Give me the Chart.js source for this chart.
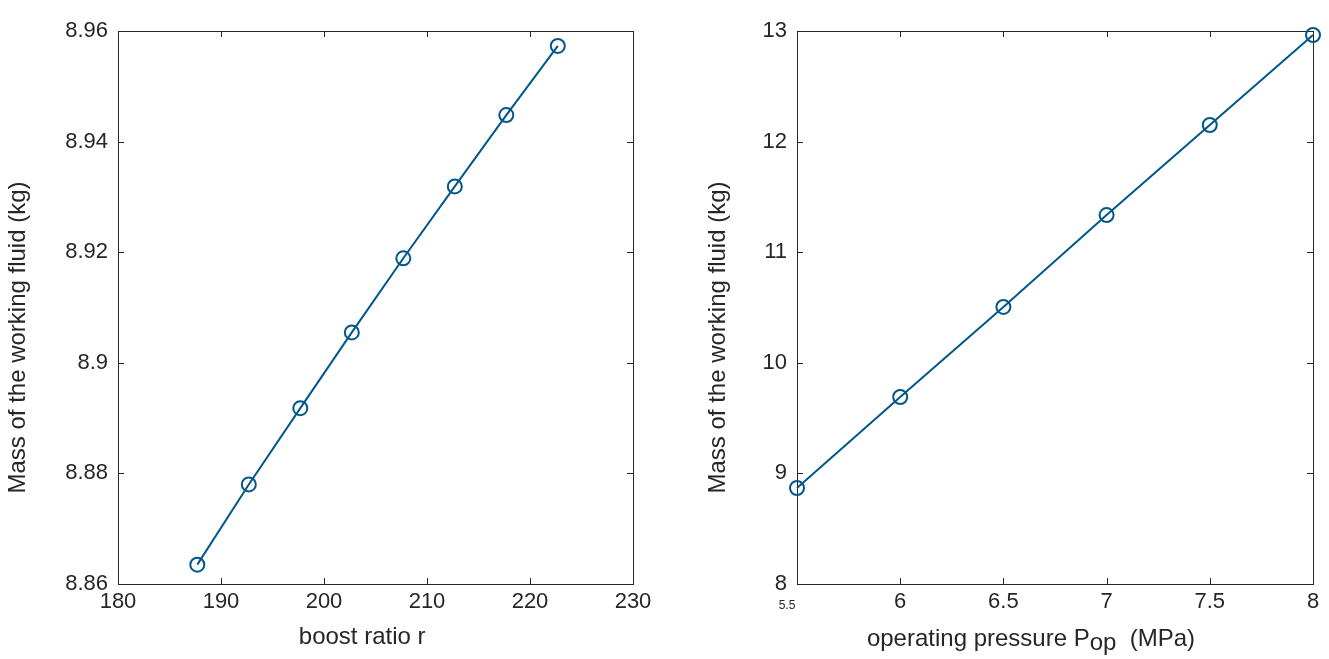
<!DOCTYPE html>
<html>
<head>
<meta charset="utf-8">
<title>Working fluid mass</title>
<script src="https://cdn.jsdelivr.net/npm/chart.js@4.4.1/dist/chart.umd.min.js"></script>
<style>
  html, body { margin: 0; padding: 0; background: #fff; }
  #wrap { position: relative; width: 1329px; height: 659px; }
  #leftBox { position: absolute; left: 0; top: 0; width: 680px; height: 659px; }
  #rightBox { position: absolute; left: 700px; top: 0; width: 629px; height: 659px; }
</style>
</head>
<body>
<div id="wrap">
  <div id="leftBox"><canvas id="boostChart" width="680" height="659"></canvas></div>
  <div id="rightBox"><canvas id="pressureChart" width="629" height="659"></canvas></div>
</div>
<script>
// boost ratio sweep
const boostRatio = [187.7, 192.7, 197.7, 202.7, 207.7, 212.7, 217.7, 222.7];
const massByBoost = [8.8635, 8.8780, 8.8918, 8.9055, 8.9189, 8.9319, 8.9448, 8.9573];

// operating pressure sweep (MPa)
const pressure = [5.5, 6, 6.5, 7, 7.5, 8];
const massByPressure = [8.868, 9.691, 10.505, 11.336, 12.150, 12.964];

// tick labels
const boostTickLabels = ['180', '190', '200', '210', '220', '230'];
const massBoostTickLabels = ['8.86', '8.88', '8.9', '8.92', '8.94', '8.96'];
const pressureTickLabels = ['5.5', '6', '6.5', '7', '7.5', '8'];
const massPressureTickLabels = ['8', '9', '10', '11', '12', '13'];

const FONT = "'Liberation Sans', Arial, Helvetica, sans-serif";
const INK = '#262626';
const LINE = '#00578A';

Chart.defaults.font.family = FONT;
Chart.defaults.color = INK;

// trailing blanks nudge a centred title toward its start
const pad = n => ' '.repeat(n);

// box around the plot area plus inward tick marks on all four sides
const boxTicks = {
  id: 'boxTicks',
  beforeDatasetsDraw(chart) {
    const { ctx, chartArea: a, scales } = chart;
    const len = 6;
    ctx.save();
    ctx.strokeStyle = INK;
    ctx.lineWidth = 1;
    ctx.beginPath();
    scales.x.ticks.forEach(t => {
      const px = Math.round(scales.x.getPixelForValue(t.value)) + 0.5;
      ctx.moveTo(px, a.bottom); ctx.lineTo(px, a.bottom - len);
      ctx.moveTo(px, a.top); ctx.lineTo(px, a.top + len);
    });
    scales.y.ticks.forEach(t => {
      const py = Math.round(scales.y.getPixelForValue(t.value)) + 0.5;
      ctx.moveTo(a.left, py); ctx.lineTo(a.left + len, py);
      ctx.moveTo(a.right, py); ctx.lineTo(a.right - len, py);
    });
    ctx.stroke();
    ctx.strokeRect(Math.round(a.left) + 0.5, Math.round(a.top) + 0.5,
      Math.round(a.right - a.left), Math.round(a.bottom - a.top));
    ctx.restore();
  }
};

function tickLabelFrom(list, values) {
  return function (value) {
    const i = values.findIndex(v => Math.abs(v - value) < 1e-6);
    return i >= 0 ? list[i] : '';
  };
}

function buildChart(canvasId, xs, ys, opts) {
  return new Chart(document.getElementById(canvasId), {
    type: 'line',
    data: {
      datasets: [{
        data: xs.map((x, i) => ({ x: x, y: ys[i] })),
        borderColor: LINE,
        borderWidth: 2,
        pointStyle: 'circle',
        pointRadius: 7,
        pointBorderWidth: 2,
        pointBorderColor: LINE,
        pointBackgroundColor: 'rgba(0,0,0,0)',
        tension: 0,
        clip: false
      }]
    },
    options: {
      responsive: false,
      animation: false,
      devicePixelRatio: 1,
      layout: { padding: { top: 31, right: opts.rightPad, left: 0, bottom: 0 } },
      plugins: { legend: { display: false }, tooltip: { enabled: false } },
      scales: {
        x: {
          type: 'linear',
          min: opts.xMin, max: opts.xMax,
          afterFit: s => { s.height = 75; },
          grid: { display: false, drawTicks: false },
          border: { display: false },
          ticks: {
            stepSize: opts.xStep,
            padding: 5,
            maxRotation: 0,
            font: { size: 22 },
            color: INK,
            callback: opts.xLabel
          },
          title: {
            display: opts.xTitle !== null,
            text: opts.xTitle || '',
            font: { size: 24 },
            color: INK,
            padding: { top: 0, bottom: 7 }
          }
        },
        y: {
          type: 'linear',
          min: opts.yMin, max: opts.yMax,
          afterFit: s => { s.width = opts.yWidth; },
          grid: { display: false, drawTicks: false },
          border: { display: false },
          ticks: {
            stepSize: opts.yStep,
            padding: 10,
            font: { size: 22 },
            color: INK,
            callback: opts.yLabel
          },
          title: {
            display: true,
            text: 'Mass of the working fluid (kg)' + pad(9),
            font: { size: 24 },
            color: INK,
            padding: { top: 4, bottom: 0 }
          }
        }
      }
    },
    plugins: [boxTicks].concat(opts.extra || [])
  });
}

// x axis title with subscript, and the small first tick label
const pressureAxisText = {
  id: 'pressureAxisText',
  afterDraw(chart) {
    const { ctx, chartArea: a, scales } = chart;
    ctx.save();
    ctx.fillStyle = INK;
    ctx.textBaseline = 'alphabetic';

    // first tick label is drawn small
    ctx.font = '12px ' + FONT;
    ctx.textAlign = 'center';
    ctx.fillText(pressureTickLabels[0], scales.x.getPixelForValue(pressure[0]) - 10, 609);

    const big = '24px ' + FONT;
    const parts = [
      { t: 'operating pressure P', dy: 0 },
      { t: 'op', dy: 4 },
      { t: '  (MPa)', dy: 0 }
    ];
    ctx.font = big;
    let total = 0;
    parts.forEach(p => { p.w = ctx.measureText(p.t).width; total += p.w; });
    let x = (a.left + a.right) / 2 - 24 - total / 2;
    const base = chart.height - 13;
    ctx.textAlign = 'left';
    parts.forEach(p => {
      ctx.fillText(p.t, x, base + p.dy);
      x += p.w;
    });
    ctx.restore();
  }
};

buildChart('boostChart', boostRatio, massByBoost, {
  xMin: 180, xMax: 230, xStep: 10,
  yMin: 8.86, yMax: 8.96, yStep: 0.02,
  yWidth: 118, rightPad: 47,
  xTitle: 'boost ratio r' + pad(4),
  xLabel: tickLabelFrom(boostTickLabels, [180, 190, 200, 210, 220, 230]),
  yLabel: tickLabelFrom(massBoostTickLabels, [8.86, 8.88, 8.90, 8.92, 8.94, 8.96])
});

buildChart('pressureChart', pressure, massByPressure, {
  xMin: 5.5, xMax: 8, xStep: 0.5,
  yMin: 8, yMax: 13, yStep: 1,
  yWidth: 97, rightPad: 16,
  xTitle: null,
  xLabel: v => (Math.abs(v - pressure[0]) < 1e-6 ? '' :
    tickLabelFrom(pressureTickLabels, [5.5, 6, 6.5, 7, 7.5, 8])(v)),
  yLabel: tickLabelFrom(massPressureTickLabels, [8, 9, 10, 11, 12, 13]),
  extra: [pressureAxisText]
});
</script>
</body>
</html>
